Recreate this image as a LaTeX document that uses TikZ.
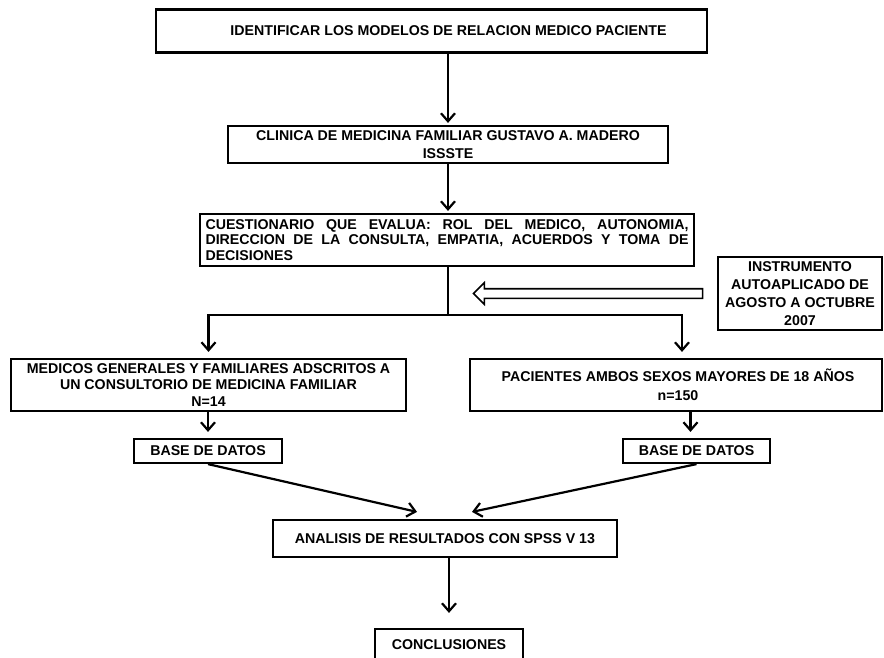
\documentclass[tikz,border=0pt]{standalone}
\usepackage{fontspec}
\setmainfont{Liberation Sans}
\usetikzlibrary{arrows.meta,calc,shapes.arrows,positioning}
\hyphenpenalty=10000
\tikzset{
    x=1pt,y=-1pt,
    caja/.style ={draw, line width=2.2pt, inner sep=0pt, align=center,
        font=\bfseries\fontsize{14.2}{17}\selectfont},
    flujo/.style={line width=2.2pt, -{Straight Barb[length=8pt,width=14pt]}, shorten >=2pt},
    linea/.style={line width=2.2pt, line cap=rect},
    hueca/.style={single arrow, draw, line width=1.6pt, shape border rotate=180,
        inner sep=4pt, single arrow head extend=6pt, minimum height=229pt}
}

\begin{document}
\begin{tikzpicture}
      \clip (0,0) rectangle (884,657);
      \node[caja, minimum width=551pt, minimum height=43pt] (objetivo) at (431.5,31) {\hspace*{34pt}IDENTIFICAR LOS MODELOS DE RELACION MEDICO PACIENTE};
      \node[caja, minimum width=440pt, minimum height=37pt, font=\bfseries\fontsize{14.2}{18}\selectfont] (clinica) at (448,144.5) {CLINICA DE MEDICINA FAMILIAR GUSTAVO A. MADERO\\ISSSTE};
      \node[caja, minimum width=494pt, minimum height=52pt, text width=483pt, align=justify,
            font=\bfseries\fontsize{14.2}{15.5}\selectfont] (cuestionario) at (447,240)
            {CUESTIONARIO QUE EVALUA: ROL DEL MEDICO, AUTONOMIA, DIRECCION DE LA CONSULTA, EMPATIA, ACUERDOS Y TOMA DE DECISIONES};
      \node[caja, minimum width=164pt, minimum height=73pt, font=\bfseries\fontsize{14.2}{18}\selectfont] (instrumento) at (800,293.5) {INSTRUMENTO\\AUTOAPLICADO DE\\AGOSTO A OCTUBRE\\2007};

      \node[caja, minimum width=395pt, minimum height=52pt, font=\bfseries\fontsize{14.2}{16.5}\selectfont] (medicos) at (208.5,385) {MEDICOS GENERALES Y FAMILIARES ADSCRITOS A\\UN CONSULTORIO DE MEDICINA FAMILIAR\\N=14};
      \node[caja, minimum width=412pt, minimum height=52pt, font=\bfseries\fontsize{14.2}{19}\selectfont] (pacientes) at (676,385) {\hspace*{4pt}PACIENTES AMBOS SEXOS MAYORES DE 18 AÑOS\\\hspace*{4pt}n=150};

      \node[caja, minimum width=148pt, minimum height=24pt] (base1) at (208,451) {BASE DE DATOS};
      \node[caja, minimum width=147pt, minimum height=24pt] (base2) at (696.5,451) {BASE DE DATOS};

      \node[caja, minimum width=344pt, minimum height=37pt] (analisis) at (445,538.5) {ANALISIS DE RESULTADOS CON SPSS V 13};
      \node[caja, minimum width=148pt, minimum height=32pt] (conclusiones) at (449,645) {CONCLUSIONES};

      \coordinate (reparto) at (448,315);
      \coordinate (izq) at (medicos.north |- reparto);
      \coordinate (der) at ([xshift=6pt]pacientes.north |- reparto);
      \node[hueca] (entrada) at (590.5,293.5) {};

      \draw[flujo] (objetivo.south -| clinica.north) -- (clinica.north);
      \draw[flujo] (clinica.south) -- (clinica.south |- cuestionario.north);
      \draw[linea] (cuestionario.south -| reparto) -- (reparto);
      \draw[linea] (izq) -- (der);
      \draw[flujo, shorten >=6pt] (izq) -- (medicos.north);
      \draw[flujo, shorten >=6pt] (der) -- ([xshift=6pt]pacientes.north);
      \draw[flujo, shorten >=6pt] (medicos.south -| base1.north) -- (base1.north);
      \draw[flujo, shorten >=6pt] ([xshift=-6pt]base2.north |- pacientes.south) -- ([xshift=-6pt]base2.north);
      \draw[flujo, shorten >=0pt] (base1.south) -- ([xshift=-28pt,yshift=7pt]analisis.north);
      \draw[flujo, shorten >=0pt] (base2.south) -- ([xshift=27pt,yshift=7pt]analisis.north);
      \draw[flujo, shorten >=15pt] (analisis.south -| conclusiones.north) -- (conclusiones.north);
    \end{tikzpicture}
\end{document}
